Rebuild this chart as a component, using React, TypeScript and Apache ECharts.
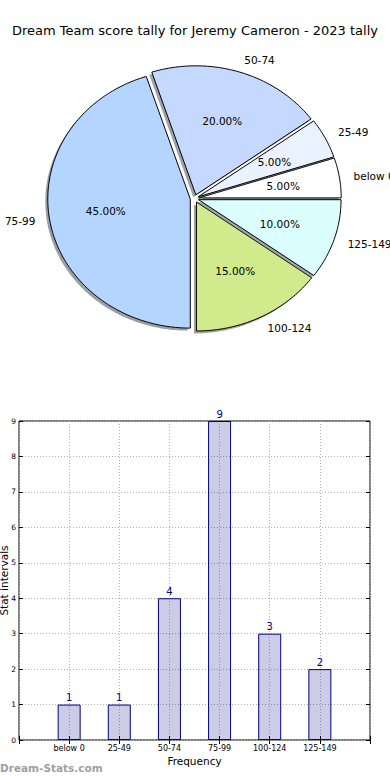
import React, { useEffect, useRef } from "react";
import * as echarts from "echarts";

const TITLE = "Dream Team score tally for Jeremy Cameron - 2023 tally";
const pieLabels = ["below 0", "25-49", "50-74", "75-99", "100-124", "125-149"];
const pieValues = [1, 1, 4, 9, 3, 2];
const sliceColors = ["#ffffff", "#eaf1ff", "#c5d9ff", "#b4d5ff", "#d1ea8c", "#dbffff"];

const barCategories = ["below 0", "25-49", "50-74", "75-99", "100-124", "125-149"];
const barValues = [1, 1, 4, 9, 3, 2];

const FONT = "DejaVu Sans";

// pie layout (pixels)
const CX = 194.5;
const CY = 198.5;
const RX = 142.5;
const RY = 129;
const EXPLODE = 0.03;
const SHX = -2.5;
const SHY = 2.5;

function hexToRgb(h: string) {
  const n = parseInt(h.slice(1), 16);
  return [(n >> 16) & 255, (n >> 8) & 255, n & 255];
}

export default function App() {
  const ref = useRef<HTMLDivElement>(null);
  useEffect(() => {
    if (!ref.current) return;
    const chart = echarts.init(ref.current, undefined, { renderer: "svg" });
    const total = pieValues.reduce((a, b) => a + b, 0);
    const starts: number[] = [];
    let acc = 0;
    pieValues.forEach((v) => {
      starts.push(acc);
      acc += v / total;
    });
    const pieData = pieValues.map((v, i) => [v, starts[i], i]);

    const renderItem = (params: any, api: any) => {
      const i = params.dataIndex;
      const v = api.value(0) as number;
      const s = api.value(1) as number;
      const a0 = s * Math.PI * 2;
      const a1 = (s + v / total) * Math.PI * 2;
      const mid = (a0 + a1) / 2;
      const ox = EXPLODE * RX * Math.cos(mid);
      const oy = -EXPLODE * RY * Math.sin(mid);
      const bx = CX + ox;
      const by = CY + oy;
      const pts: number[][] = [[bx, by]];
      const n = Math.max(2, Math.ceil((a1 - a0) / (Math.PI / 180)));
      for (let k = 0; k <= n; k++) {
        const t = a0 + ((a1 - a0) * k) / n;
        pts.push([bx + RX * Math.cos(t), by - RY * Math.sin(t)]);
      }
      const shadowPts = pts.map((p) => [p[0] + SHX, p[1] + SHY]);
      const [r, g, b] = hexToRgb(sliceColors[i]);
      const shadowFill = `rgba(${Math.round(r * 0.3)},${Math.round(g * 0.3)},${Math.round(b * 0.3)},0.5)`;
      const lx = bx + 1.1 * RX * Math.cos(mid);
      const ly = by - 1.1 * RY * Math.sin(mid);
      const px = bx + 0.6 * RX * Math.cos(mid);
      const py = by - 0.6 * RY * Math.sin(mid);
      const pct = ((v / total) * 100).toFixed(2) + "%";
      return {
        type: "group",
        children: [
          { type: "polygon", shape: { points: shadowPts }, style: { fill: shadowFill }, z2: i * 2 },
          {
            type: "polygon",
            shape: { points: pts },
            style: { fill: sliceColors[i], stroke: "#000", lineWidth: 1 },
            z2: i * 2 + 1,
          },
          {
            type: "text",
            x: lx,
            y: ly,
            z2: 100,
            style: {
              text: pieLabels[i],
              fill: "#000",
              fontSize: 10.5,
              fontFamily: FONT,
              align: Math.cos(mid) > 0 ? "left" : "right",
              verticalAlign: "middle",
            },
          },
          {
            type: "text",
            x: px,
            y: py,
            z2: 100,
            style: {
              text: pct,
              fill: "#000",
              fontSize: 10.5,
              fontFamily: FONT,
              align: "center",
              verticalAlign: "middle",
            },
          },
        ],
      };
    };

    const xData = ["", ...barCategories, ""];
    const barData = [null, ...barValues, null];
    const dotted = { type: [1, 2], color: "#b0b0b0", width: 1 };

    chart.setOption({
      animation: false,
      backgroundColor: "#ffffff",
      textStyle: { fontFamily: FONT },
      title: {
        text: TITLE,
        left: "center",
        top: 19,
        textStyle: { fontSize: 13, fontWeight: "normal", color: "#000", fontFamily: FONT },
      },
      graphic: [
        {
          type: "text",
          left: 0,
          top: 762,
          style: {
            text: "Dream-Stats.com",
            fill: "#a0a0a0",
            fontSize: 10.5,
            fontWeight: "bold",
            fontFamily: FONT,
          },
        },
      ],
      grid: {
        left: 19,
        right: 20,
        top: 421,
        bottom: 40,
        containLabel: false,
        outerBoundsMode: "none",
        show: true,
        borderColor: "#000",
        borderWidth: 1,
      },
      xAxis: [
        {
          type: "category",
          data: xData,
          boundaryGap: false,
          position: "bottom",
          axisLine: { show: false },
          axisTick: { show: true, inside: true, length: 4, interval: 0, lineStyle: { color: "#000" } },
          axisLabel: { interval: 0, fontSize: 8, color: "#000", margin: 4, fontFamily: FONT },
          splitLine: { show: true, interval: 0, lineStyle: dotted },
          name: "Frequency",
          nameLocation: "middle",
          nameGap: 15,
          nameMoveOverlap: false,
          nameTextStyle: { fontSize: 10.5, color: "#000", fontFamily: FONT },
        },
        {
          type: "category",
          data: xData,
          boundaryGap: false,
          position: "top",
          axisLine: { show: false },
          axisTick: { show: true, inside: true, length: 4, interval: 0, lineStyle: { color: "#000" } },
          axisLabel: { show: false },
          splitLine: { show: false },
        },
      ],
      yAxis: [
        {
          type: "value",
          min: 0,
          max: 9,
          interval: 1,
          position: "left",
          axisLine: { show: false },
          axisTick: { show: true, inside: true, length: 4, lineStyle: { color: "#000" } },
          axisLabel: { fontSize: 7.5, color: "#000", margin: 3, fontFamily: FONT },
          splitLine: { show: true, lineStyle: dotted },
          name: "Stat intervals",
          nameLocation: "middle",
          nameGap: 10,
          nameRotate: 90,
          nameMoveOverlap: false,
          nameTextStyle: { fontSize: 10.5, color: "#000", fontFamily: FONT },
        },
        {
          type: "value",
          min: 0,
          max: 9,
          interval: 1,
          position: "right",
          axisLine: { show: false },
          axisTick: { show: true, inside: true, length: 4, lineStyle: { color: "#000" } },
          axisLabel: { show: false },
          splitLine: { show: false },
        },
      ],
      series: [
        {
          type: "custom",
          coordinateSystem: "none",
          renderItem,
          data: pieData,
          silent: true,
        },
        {
          type: "bar",
          xAxisIndex: 0,
          yAxisIndex: 0,
          data: barData,
          barWidth: 23,
          itemStyle: { color: "rgba(0,0,128,0.2)", borderColor: "#000080", borderWidth: 1 },
          label: {
            show: true,
            position: "top",
            distance: 2,
            color: "#000080",
            fontSize: 10,
            fontFamily: FONT,
          },
        },
      ],
    });
    return () => chart.dispose();
  }, []);
  return (
    <div
      ref={ref}
      style={{ position: "fixed", left: 0, top: 0, width: 390, height: 780, background: "#fff" }}
    />
  );
}
